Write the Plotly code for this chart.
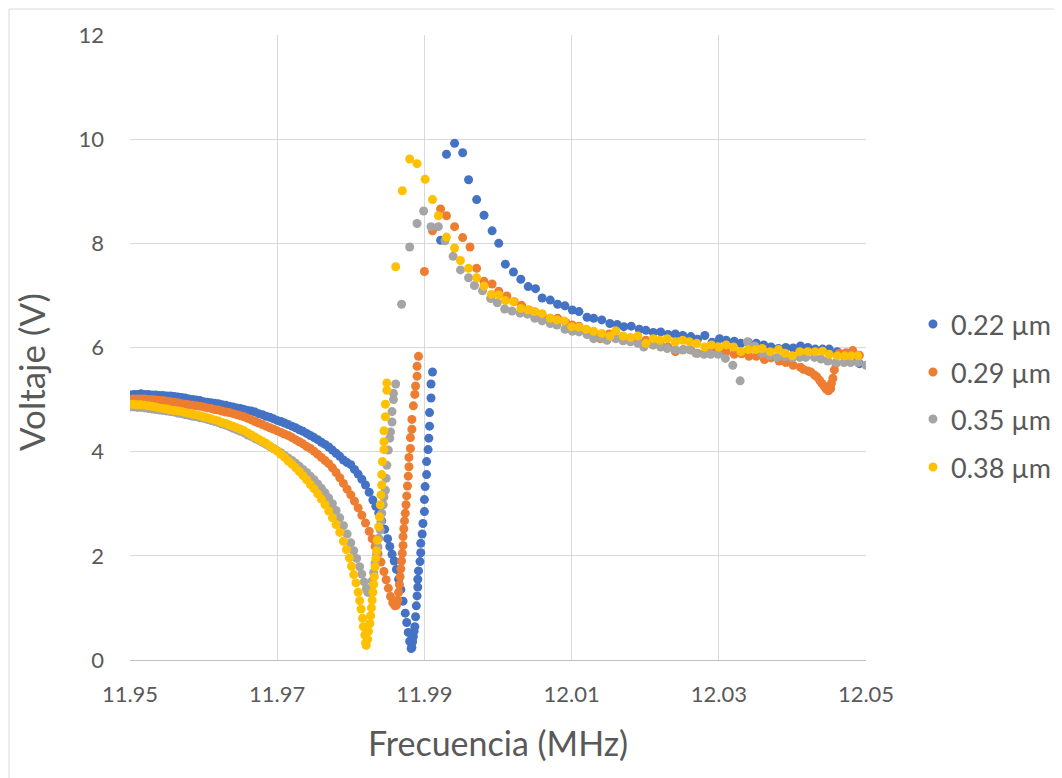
import plotly.graph_objects as go

# ---------------- data (frequency MHz, voltage V) ----------------
series_names = ["0.22 µm", "0.29 µm", "0.35 µm", "0.38 µm"]
series_colors = ["#4472C4", "#ED7D31", "#A5A5A5", "#FFC000"]

pts_022 = [
    (11.9500, 5.09), (11.9505, 5.10), (11.9510, 5.10), (11.9515, 5.11), (11.9520, 5.10),
    (11.9525, 5.10), (11.9530, 5.09), (11.9535, 5.09), (11.9540, 5.08), (11.9545, 5.08),
    (11.9550, 5.07), (11.9555, 5.07), (11.9560, 5.06), (11.9565, 5.05), (11.9570, 5.04),
    (11.9575, 5.03), (11.9580, 5.01), (11.9585, 5.00), (11.9590, 4.99), (11.9595, 4.98),
    (11.9600, 4.96), (11.9605, 4.95), (11.9610, 4.94), (11.9615, 4.93), (11.9620, 4.92),
    (11.9625, 4.90), (11.9630, 4.89), (11.9635, 4.87), (11.9640, 4.86), (11.9645, 4.84),
    (11.9650, 4.83), (11.9655, 4.81), (11.9660, 4.79), (11.9665, 4.78), (11.9670, 4.76),
    (11.9675, 4.73), (11.9680, 4.71), (11.9685, 4.68), (11.9690, 4.66), (11.9695, 4.63),
    (11.9700, 4.60), (11.9705, 4.58), (11.9710, 4.55), (11.9715, 4.52), (11.9720, 4.49),
    (11.9725, 4.46), (11.9730, 4.42), (11.9735, 4.39), (11.9740, 4.35), (11.9745, 4.31),
    (11.9750, 4.27), (11.9755, 4.23), (11.9760, 4.18), (11.9765, 4.14), (11.9770, 4.09),
    (11.9775, 4.03), (11.9780, 3.97), (11.9785, 3.91), (11.9790, 3.84), (11.9795, 3.79),
    (11.9800, 3.75), (11.9805, 3.66), (11.9810, 3.57), (11.9815, 3.47), (11.9820, 3.36),
    (11.9825, 3.22), (11.9830, 3.07), (11.9834, 2.95), (11.9838, 2.82), (11.9842, 2.67),
    (11.9846, 2.51), (11.9850, 2.33), (11.9853, 2.18), (11.9856, 2.03), (11.9859, 1.90),
    (11.9862, 1.74), (11.9865, 1.55), (11.9868, 1.35), (11.9871, 1.13), (11.9874, 0.90),
    (11.9876, 0.72), (11.9878, 0.53), (11.9880, 0.36), (11.9882, 0.22), (11.9883, 0.24),
    (11.9884, 0.35), (11.9885, 0.45), (11.9886, 0.55), (11.9887, 0.64), (11.9888, 0.83),
    (11.9889, 1.04), (11.9890, 1.23), (11.9891, 1.40), (11.9891, 1.55), (11.9892, 1.71),
    (11.9894, 1.89), (11.9895, 2.06), (11.9895, 2.24), (11.9897, 2.42), (11.9898, 2.62),
    (11.9900, 2.85), (11.9900, 3.08), (11.9901, 3.33), (11.9903, 3.56), (11.9903, 3.81),
    (11.9905, 4.04), (11.9906, 4.26), (11.9907, 4.49), (11.9907, 4.75), (11.9909, 5.03),
    (11.9909, 5.30), (11.9911, 5.53), (11.9922, 8.06), (11.9930, 9.71), (11.9941, 9.92),
    (11.9952, 9.74), (11.9960, 9.22), (11.9971, 8.84), (11.9981, 8.54), (11.9992, 8.24),
    (12.0001, 8.00), (12.0010, 7.60), (12.0021, 7.45), (12.0031, 7.31), (12.0041, 7.17),
    (12.0051, 7.13), (12.0060, 6.95), (12.0071, 6.91), (12.0081, 6.83), (12.0091, 6.80),
    (12.0101, 6.72), (12.0110, 6.69), (12.0121, 6.58), (12.0130, 6.56), (12.0141, 6.53),
    (12.0152, 6.46), (12.0162, 6.44), (12.0171, 6.40), (12.0181, 6.41), (12.0192, 6.35),
    (12.0201, 6.33), (12.0211, 6.29), (12.0221, 6.30), (12.0231, 6.25), (12.0241, 6.26),
    (12.0251, 6.23), (12.0262, 6.21), (12.0271, 6.16), (12.0281, 6.23), (12.0291, 6.10),
    (12.0301, 6.17), (12.0310, 6.14), (12.0321, 6.12), (12.0330, 6.08), (12.0340, 6.10),
    (12.0351, 6.08), (12.0361, 6.05), (12.0371, 6.01), (12.0381, 5.98), (12.0391, 6.00),
    (12.0401, 5.99), (12.0411, 6.03), (12.0421, 6.00), (12.0431, 5.97), (12.0441, 5.97),
    (12.0450, 5.97), (12.0461, 5.92), (12.0470, 5.85), (12.0481, 5.78), (12.0491, 5.69),
]

pts_029 = [
    (11.9500, 5.00), (11.9505, 5.01), (11.9510, 5.01), (11.9515, 5.01), (11.9520, 5.01),
    (11.9525, 5.00), (11.9530, 5.00), (11.9535, 4.99), (11.9540, 4.98), (11.9545, 4.98),
    (11.9550, 4.97), (11.9555, 4.96), (11.9560, 4.95), (11.9565, 4.94), (11.9570, 4.92),
    (11.9575, 4.91), (11.9580, 4.90), (11.9585, 4.89), (11.9590, 4.88), (11.9595, 4.87),
    (11.9600, 4.86), (11.9605, 4.84), (11.9610, 4.83), (11.9615, 4.81), (11.9620, 4.80),
    (11.9625, 4.78), (11.9630, 4.76), (11.9635, 4.75), (11.9640, 4.73), (11.9645, 4.71),
    (11.9650, 4.69), (11.9655, 4.67), (11.9660, 4.64), (11.9665, 4.61), (11.9670, 4.58),
    (11.9675, 4.55), (11.9680, 4.52), (11.9685, 4.49), (11.9690, 4.46), (11.9695, 4.43),
    (11.9700, 4.40), (11.9705, 4.37), (11.9710, 4.34), (11.9715, 4.31), (11.9720, 4.27),
    (11.9725, 4.23), (11.9730, 4.19), (11.9735, 4.15), (11.9740, 4.10), (11.9745, 4.06),
    (11.9750, 4.01), (11.9755, 3.95), (11.9760, 3.89), (11.9765, 3.83), (11.9770, 3.77),
    (11.9775, 3.69), (11.9780, 3.60), (11.9785, 3.50), (11.9790, 3.39), (11.9795, 3.28),
    (11.9800, 3.17), (11.9805, 3.05), (11.9810, 2.92), (11.9815, 2.78), (11.9820, 2.63),
    (11.9825, 2.47), (11.9829, 2.33), (11.9833, 2.18), (11.9837, 2.04), (11.9841, 1.88),
    (11.9845, 1.70), (11.9848, 1.54), (11.9851, 1.38), (11.9854, 1.22), (11.9857, 1.10),
    (11.9860, 1.04), (11.9862, 1.05), (11.9864, 1.15), (11.9865, 1.30), (11.9866, 1.45),
    (11.9867, 1.60), (11.9868, 1.75), (11.9869, 1.90), (11.9870, 2.05), (11.9871, 2.20),
    (11.9871, 2.37), (11.9872, 2.52), (11.9873, 2.67), (11.9874, 2.82), (11.9875, 2.98),
    (11.9876, 3.15), (11.9877, 3.34), (11.9878, 3.53), (11.9879, 3.71), (11.9879, 3.89),
    (11.9881, 4.06), (11.9881, 4.27), (11.9883, 4.43), (11.9883, 4.62), (11.9885, 4.88),
    (11.9887, 5.10), (11.9888, 5.26), (11.9890, 5.45), (11.9890, 5.64), (11.9892, 5.83),
    (11.9900, 7.46), (11.9911, 8.24), (11.9922, 8.66), (11.9930, 8.53), (11.9941, 8.32),
    (11.9952, 8.11), (11.9962, 7.93), (11.9971, 7.52), (11.9981, 7.27), (11.9992, 7.22),
    (12.0001, 7.08), (12.0012, 6.99), (12.0022, 6.88), (12.0032, 6.81), (12.0042, 6.72),
    (12.0051, 6.67), (12.0060, 6.62), (12.0071, 6.56), (12.0081, 6.56), (12.0092, 6.48),
    (12.0101, 6.43), (12.0110, 6.41), (12.0121, 6.33), (12.0130, 6.28), (12.0139, 6.17),
    (12.0151, 6.26), (12.0160, 6.18), (12.0170, 6.14), (12.0180, 6.14), (12.0190, 6.11),
    (12.0201, 6.14), (12.0211, 6.05), (12.0221, 6.05), (12.0231, 6.01), (12.0241, 5.92),
    (12.0252, 5.96), (12.0262, 5.95), (12.0271, 5.89), (12.0281, 5.89), (12.0291, 5.94),
    (12.0301, 5.92), (12.0310, 5.92), (12.0321, 5.87), (12.0331, 5.88), (12.0341, 5.83),
    (12.0351, 5.83), (12.0362, 5.77), (12.0371, 5.80), (12.0382, 5.74), (12.0391, 5.71),
    (12.0401, 5.66), (12.0411, 5.62), (12.0415, 5.58), (12.0421, 5.55), (12.0425, 5.53),
    (12.0430, 5.47), (12.0433, 5.44), (12.0437, 5.37), (12.0440, 5.31), (12.0443, 5.26),
    (12.0446, 5.20), (12.0449, 5.17), (12.0452, 5.21), (12.0453, 5.31), (12.0455, 5.41),
    (12.0457, 5.57), (12.0459, 5.69), (12.0464, 5.89), (12.0473, 5.90), (12.0482, 5.94),
    (12.0491, 5.85),
]

pts_035 = [
    (11.9500, 4.86), (11.9505, 4.86), (11.9510, 4.85), (11.9515, 4.85), (11.9520, 4.84),
    (11.9525, 4.83), (11.9530, 4.82), (11.9535, 4.81), (11.9540, 4.80), (11.9545, 4.79),
    (11.9550, 4.78), (11.9555, 4.77), (11.9560, 4.76), (11.9565, 4.74), (11.9570, 4.73),
    (11.9575, 4.71), (11.9580, 4.70), (11.9585, 4.68), (11.9590, 4.67), (11.9595, 4.65),
    (11.9600, 4.64), (11.9605, 4.62), (11.9610, 4.60), (11.9615, 4.58), (11.9620, 4.56),
    (11.9625, 4.53), (11.9630, 4.51), (11.9635, 4.48), (11.9640, 4.45), (11.9645, 4.42),
    (11.9650, 4.39), (11.9655, 4.36), (11.9660, 4.32), (11.9665, 4.29), (11.9670, 4.25),
    (11.9675, 4.22), (11.9680, 4.18), (11.9685, 4.14), (11.9690, 4.10), (11.9695, 4.06),
    (11.9700, 4.02), (11.9705, 3.98), (11.9710, 3.93), (11.9715, 3.88), (11.9720, 3.83),
    (11.9725, 3.78), (11.9730, 3.72), (11.9735, 3.66), (11.9740, 3.60), (11.9745, 3.53),
    (11.9750, 3.46), (11.9755, 3.38), (11.9760, 3.30), (11.9765, 3.21), (11.9770, 3.11),
    (11.9775, 3.00), (11.9780, 2.87), (11.9785, 2.73), (11.9790, 2.58), (11.9795, 2.42),
    (11.9800, 2.25), (11.9804, 2.10), (11.9808, 1.95), (11.9812, 1.79), (11.9815, 1.65),
    (11.9818, 1.50), (11.9821, 1.37), (11.9823, 1.30), (11.9825, 1.30), (11.9827, 1.38),
    (11.9829, 1.52), (11.9831, 1.68), (11.9833, 1.86), (11.9835, 2.02), (11.9837, 2.17),
    (11.9838, 2.34), (11.9840, 2.50), (11.9841, 2.66), (11.9842, 2.82), (11.9844, 2.98),
    (11.9845, 3.13), (11.9847, 3.26), (11.9848, 3.49), (11.9849, 3.74), (11.9851, 4.03),
    (11.9853, 4.26), (11.9854, 4.38), (11.9856, 4.57), (11.9856, 4.77), (11.9858, 5.00),
    (11.9858, 5.12), (11.9861, 5.30), (11.9869, 6.83), (11.9880, 7.93), (11.9890, 8.38),
    (11.9899, 8.62), (11.9909, 8.32), (11.9919, 8.32), (11.9928, 8.05), (11.9939, 7.75),
    (11.9949, 7.49), (11.9960, 7.34), (11.9968, 7.19), (11.9979, 7.09), (11.9990, 6.94),
    (11.9999, 6.86), (12.0009, 6.74), (12.0019, 6.70), (12.0030, 6.66), (12.0040, 6.64),
    (12.0050, 6.56), (12.0060, 6.51), (12.0071, 6.46), (12.0080, 6.43), (12.0091, 6.35),
    (12.0101, 6.31), (12.0110, 6.30), (12.0121, 6.25), (12.0130, 6.17), (12.0141, 6.18),
    (12.0148, 6.14), (12.0160, 6.17), (12.0170, 6.13), (12.0180, 6.11), (12.0190, 6.08),
    (12.0198, 6.01), (12.0210, 6.05), (12.0221, 6.01), (12.0230, 5.98), (12.0241, 5.96),
    (12.0251, 5.95), (12.0260, 5.96), (12.0269, 5.89), (12.0280, 5.87), (12.0289, 5.87),
    (12.0299, 5.87), (12.0309, 5.79), (12.0319, 5.66), (12.0329, 5.36), (12.0339, 6.11),
    (12.0349, 6.03), (12.0359, 5.89), (12.0369, 5.84), (12.0379, 5.81), (12.0390, 5.82),
    (12.0400, 5.80), (12.0410, 5.81), (12.0418, 5.81), (12.0430, 5.81), (12.0439, 5.78),
    (12.0448, 5.74), (12.0459, 5.71), (12.0470, 5.71), (12.0479, 5.71), (12.0489, 5.71),
    (12.0500, 5.66),
]

pts_038 = [
    (11.9500, 4.91), (11.9505, 4.91), (11.9510, 4.90), (11.9515, 4.90), (11.9520, 4.89),
    (11.9525, 4.88), (11.9530, 4.87), (11.9535, 4.86), (11.9540, 4.84), (11.9545, 4.83),
    (11.9550, 4.82), (11.9555, 4.80), (11.9560, 4.79), (11.9565, 4.78), (11.9570, 4.77),
    (11.9575, 4.75), (11.9580, 4.74), (11.9585, 4.72), (11.9590, 4.71), (11.9595, 4.69),
    (11.9600, 4.67), (11.9605, 4.65), (11.9610, 4.63), (11.9615, 4.61), (11.9620, 4.59),
    (11.9625, 4.56), (11.9630, 4.54), (11.9635, 4.51), (11.9640, 4.49), (11.9645, 4.46),
    (11.9650, 4.43), (11.9655, 4.40), (11.9660, 4.36), (11.9665, 4.32), (11.9670, 4.28),
    (11.9675, 4.24), (11.9680, 4.20), (11.9685, 4.16), (11.9690, 4.11), (11.9695, 4.06),
    (11.9700, 4.01), (11.9705, 3.95), (11.9710, 3.89), (11.9715, 3.82), (11.9720, 3.76),
    (11.9725, 3.69), (11.9730, 3.62), (11.9735, 3.54), (11.9740, 3.46), (11.9745, 3.37),
    (11.9750, 3.29), (11.9755, 3.19), (11.9760, 3.09), (11.9765, 2.98), (11.9770, 2.86),
    (11.9775, 2.73), (11.9780, 2.60), (11.9785, 2.45), (11.9790, 2.28), (11.9794, 2.12),
    (11.9798, 1.96), (11.9801, 1.80), (11.9804, 1.64), (11.9807, 1.48), (11.9810, 1.30),
    (11.9812, 1.14), (11.9814, 0.98), (11.9816, 0.80), (11.9817, 0.64), (11.9819, 0.48),
    (11.9820, 0.33), (11.9821, 0.28), (11.9823, 0.40), (11.9824, 0.55), (11.9826, 0.70),
    (11.9827, 0.85), (11.9828, 1.00), (11.9829, 1.15), (11.9830, 1.30), (11.9831, 1.45),
    (11.9832, 1.60), (11.9833, 1.79), (11.9834, 1.95), (11.9835, 2.10), (11.9836, 2.30),
    (11.9838, 2.56), (11.9839, 2.75), (11.9840, 2.98), (11.9841, 3.17), (11.9842, 3.36),
    (11.9842, 3.56), (11.9843, 3.81), (11.9845, 4.04), (11.9845, 4.19), (11.9845, 4.40),
    (11.9847, 4.67), (11.9847, 4.91), (11.9849, 5.18), (11.9849, 5.32), (11.9861, 7.55),
    (11.9870, 9.01), (11.9880, 9.62), (11.9890, 9.53), (11.9901, 9.23), (11.9911, 8.84),
    (11.9919, 8.53), (11.9930, 8.12), (11.9941, 7.91), (11.9949, 7.67), (11.9960, 7.52),
    (11.9971, 7.34), (11.9981, 7.18), (11.9991, 7.02), (12.0001, 7.01), (12.0010, 6.90),
    (12.0021, 6.88), (12.0031, 6.75), (12.0041, 6.72), (12.0050, 6.69), (12.0060, 6.65),
    (12.0071, 6.56), (12.0080, 6.53), (12.0090, 6.51), (12.0100, 6.40), (12.0110, 6.39),
    (12.0120, 6.35), (12.0130, 6.31), (12.0141, 6.27), (12.0152, 6.22), (12.0160, 6.32),
    (12.0170, 6.22), (12.0180, 6.19), (12.0190, 6.22), (12.0201, 6.08), (12.0211, 6.17),
    (12.0220, 6.14), (12.0230, 6.17), (12.0241, 6.11), (12.0251, 6.14), (12.0260, 6.11),
    (12.0270, 6.08), (12.0281, 6.01), (12.0290, 6.05), (12.0300, 6.01), (12.0310, 6.05),
    (12.0320, 6.01), (12.0330, 5.92), (12.0340, 5.96), (12.0350, 5.96), (12.0359, 5.98),
    (12.0370, 5.92), (12.0381, 5.96), (12.0390, 5.89), (12.0400, 5.84), (12.0410, 5.92),
    (12.0421, 5.92), (12.0431, 5.92), (12.0441, 5.93), (12.0450, 5.87), (12.0461, 5.84),
    (12.0471, 5.84), (12.0480, 5.84), (12.0489, 5.84),
]

x_ticks = [11.95, 11.97, 11.99, 12.01, 12.03, 12.05]
x_tick_labels = ["11.95", "11.97", "11.99", "12.01", "12.03", "12.05"]
y_ticks = [0, 2, 4, 6, 8, 10, 12]

all_series = [pts_022, pts_029, pts_035, pts_038]

# ---------------- figure ----------------
FONT = "Lato, 'Open Sans', sans-serif"
TXT = "#595959"
GRID = "#d9d9d9"
PLOT_W, PLOT_H = 736, 625

fig = go.Figure()
for name, color, pts in zip(series_names, series_colors, all_series):
    xs = [p[0] for p in pts]
    ys = [p[1] for p in pts]
    fig.add_trace(go.Scatter(
        x=xs, y=ys, mode="markers", name=name, showlegend=False,
        marker=dict(color=color, size=9, line=dict(width=0)),
    ))

# legend drawn as shapes + text (positions in paper coordinates)
legend_marker_x = 1.0910
legend_text_x = 1.1128
legend_rows_y = [0.5376, 0.4608, 0.3856, 0.3088]
rx, ry = 4.5 / PLOT_W, 4.5 / PLOT_H

shapes = [dict(
    type="rect", xref="paper", yref="paper",
    x0=-0.1644, x1=1.35, y0=-0.25, y1=1.0416,
    line=dict(color="#d9d9d9", width=1), fillcolor="rgba(0,0,0,0)", layer="below",
)]
annotations = []
for name, color, ly in zip(series_names, series_colors, legend_rows_y):
    shapes.append(dict(
        type="circle", xref="paper", yref="paper",
        x0=legend_marker_x - rx, x1=legend_marker_x + rx, y0=ly - ry, y1=ly + ry,
        fillcolor=color, line=dict(width=0),
    ))
    annotations.append(dict(
        text=name, xref="paper", yref="paper", x=legend_text_x, y=ly,
        xanchor="left", yanchor="middle", showarrow=False,
        font=dict(size=27, color=TXT, family=FONT),
    ))

annotations.append(dict(
    text="Frecuencia (MHz)", xref="paper", yref="paper", x=0.5, y=-0.1312,
    xanchor="center", yanchor="middle", showarrow=False,
    font=dict(size=34, color=TXT, family=FONT),
))
annotations.append(dict(
    text="Voltaje (V)", xref="paper", yref="paper", x=-0.1345, y=0.4608,
    xanchor="center", yanchor="middle", showarrow=False, textangle=-90,
    font=dict(size=35, color=TXT, family=FONT),
))

fig.update_layout(
    width=1054, height=770,
    margin=dict(l=122, r=196, t=27, b=118),
    paper_bgcolor="white", plot_bgcolor="white",
    font=dict(family=FONT, color=TXT),
    showlegend=False,
    xaxis=dict(
        range=[11.95, 12.05], tickvals=x_ticks, ticktext=x_tick_labels,
        showgrid=True, gridcolor=GRID, gridwidth=1.3,
        showline=True, linecolor="#bfbfbf", linewidth=1.3,
        zeroline=False, ticks="", ticklabelstandoff=14,
        tickfont=dict(size=22, color=TXT),
    ),
    yaxis=dict(
        range=[0, 12], tickvals=y_ticks,
        showgrid=True, gridcolor=GRID, gridwidth=1.3,
        showline=False, zeroline=False, ticks="", ticklabelstandoff=25,
        tickfont=dict(size=22, color=TXT),
    ),
    shapes=shapes,
    annotations=annotations,
)

fig.write_html("out.html")
